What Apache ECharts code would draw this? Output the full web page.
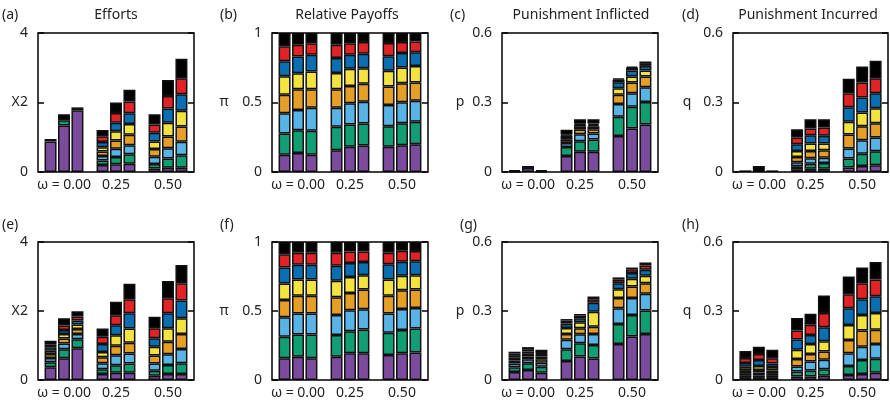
<!DOCTYPE html>
<html>
<head>
<meta charset="utf-8">
<script src="https://cdn.jsdelivr.net/npm/echarts@6/dist/echarts.min.js"></script>
<style>html,body{margin:0;padding:0;background:#fff}#c{width:890px;height:408px}</style>
</head>
<body>
<div id="c"></div>
<script>
// categories
const omegaLabels = ['ω = 0.00', '0.25', '0.50'];
// layer order (bottom → top): purple, green, light blue, orange, yellow, blue, red, black
// each row = one bar: ω=0.00 (3 bars), ω=0.25 (3 bars), ω=0.50 (3 bars)
const effortsTop = [
  [0.88,0,0,0,0,0,0,0.07],
  [1.34,0.15,0,0,0,0,0,0.17],
  [1.78,0,0,0,0,0,0,0.08],
  [0.20,0.13,0.13,0.13,0.12,0.15,0.17,0.18],
  [0.22,0.21,0.24,0.24,0.26,0.25,0.28,0.30],
  [0.24,0.27,0.26,0.30,0.31,0.31,0.34,0.34],
  [0.10,0.13,0.21,0.22,0.22,0.25,0.24,0.29],
  [0.12,0.27,0.29,0.34,0.40,0.41,0.36,0.46],
  [0.12,0.36,0.39,0.44,0.45,0.48,0.46,0.56]
];
const payoffsTop = [
  [0.125,0.152,0.145,0.133,0.133,0.108,0.108,0.096],
  [0.137,0.164,0.145,0.149,0.116,0.120,0.084,0.085],
  [0.125,0.171,0.166,0.133,0.128,0.120,0.084,0.073],
  [0.157,0.169,0.137,0.133,0.116,0.108,0.096,0.084],
  [0.181,0.161,0.152,0.125,0.123,0.101,0.084,0.073],
  [0.190,0.159,0.157,0.128,0.113,0.104,0.084,0.065],
  [0.181,0.149,0.152,0.133,0.113,0.104,0.096,0.072],
  [0.193,0.157,0.152,0.137,0.113,0.104,0.080,0.064],
  [0.200,0.161,0.152,0.130,0.120,0.099,0.077,0.061]
];
const inflictedTop = [
  [0.003,0,0,0,0,0,0,0.004],
  [0.017,0,0,0,0,0,0,0.009],
  [0.003,0,0,0,0,0,0,0.004],
  [0.069,0.039,0.017,0.014,0.012,0.007,0.004,0.020],
  [0.087,0.046,0.030,0.020,0.012,0.009,0.004,0.020],
  [0.087,0.053,0.026,0.019,0.012,0.006,0.006,0.019],
  [0.155,0.084,0.055,0.039,0.029,0.025,0.012,0.004],
  [0.188,0.094,0.058,0.046,0.026,0.026,0.012,0.005],
  [0.205,0.097,0.064,0.046,0.026,0.020,0.012,0.007]
];
const incurredTop = [
  [0,0,0,0,0,0,0,0.007],
  [0,0,0,0,0,0,0,0.026],
  [0,0,0,0,0,0,0,0.007],
  [0.012,0.013,0.017,0.023,0.026,0.029,0.029,0.035],
  [0.014,0.022,0.023,0.032,0.032,0.036,0.029,0.040],
  [0.014,0.025,0.023,0.032,0.029,0.033,0.036,0.036],
  [0.019,0.039,0.043,0.061,0.055,0.062,0.061,0.062],
  [0.026,0.053,0.058,0.061,0.059,0.065,0.064,0.069],
  [0.029,0.061,0.059,0.061,0.065,0.065,0.065,0.075]
];
const effortsBottom = [
  [0.37,0.145,0.126,0.11,0.10,0.10,0.07,0.12],
  [0.63,0.26,0.17,0.145,0.126,0.116,0.136,0.21],
  [0.92,0.26,0.155,0.145,0.126,0.116,0.116,0.155],
  [0.174,0.136,0.174,0.174,0.155,0.23,0.21,0.24],
  [0.21,0.22,0.29,0.27,0.31,0.29,0.29,0.387],
  [0.21,0.27,0.29,0.31,0.416,0.436,0.41,0.445],
  [0.126,0.145,0.21,0.23,0.25,0.25,0.29,0.33],
  [0.174,0.26,0.31,0.368,0.387,0.436,0.436,0.50],
  [0.174,0.31,0.416,0.436,0.455,0.51,0.50,0.53]
];
const payoffsBottom = [
  [0.157,0.157,0.140,0.125,0.120,0.116,0.096,0.089],
  [0.169,0.161,0.152,0.128,0.118,0.108,0.087,0.077],
  [0.157,0.173,0.152,0.128,0.118,0.108,0.087,0.077],
  [0.169,0.157,0.145,0.128,0.120,0.108,0.096,0.077],
  [0.193,0.161,0.152,0.125,0.116,0.101,0.084,0.068],
  [0.193,0.173,0.147,0.142,0.104,0.096,0.077,0.068],
  [0.181,0.161,0.140,0.128,0.118,0.111,0.084,0.077],
  [0.193,0.169,0.152,0.137,0.104,0.101,0.080,0.064],
  [0.200,0.173,0.149,0.133,0.104,0.101,0.075,0.065]
];
const inflictedBottom = [
  [0.035,0.020,0.017,0.013,0.012,0.011,0.008,0.007],
  [0.044,0.029,0.017,0.012,0.012,0.010,0.010,0.009],
  [0.032,0.026,0.017,0.015,0.012,0.012,0.003,0.014],
  [0.083,0.051,0.041,0.025,0.026,0.019,0.013,0.007],
  [0.102,0.058,0.039,0.026,0.026,0.017,0.012,0.007],
  [0.094,0.058,0.048,0.032,0.065,0.039,0.015,0.012],
  [0.157,0.087,0.068,0.044,0.039,0.026,0.015,0.010],
  [0.189,0.094,0.073,0.051,0.033,0.025,0.017,0.007],
  [0.200,0.102,0.073,0.046,0.032,0.026,0.019,0.013]
];
const incurredBottom = [
  [0.009,0.009,0.012,0.013,0.015,0.016,0.022,0.030],
  [0.009,0.009,0.014,0.012,0.017,0.026,0.026,0.032],
  [0.009,0.009,0.012,0.012,0.015,0.015,0.023,0.036],
  [0.015,0.022,0.022,0.032,0.041,0.044,0.039,0.055],
  [0.015,0.026,0.039,0.033,0.044,0.039,0.044,0.048],
  [0.019,0.028,0.041,0.036,0.044,0.061,0.062,0.076],
  [0.022,0.039,0.055,0.058,0.065,0.073,0.061,0.077],
  [0.026,0.061,0.058,0.070,0.068,0.068,0.070,0.068],
  [0.032,0.060,0.065,0.061,0.073,0.073,0.073,0.076]
];
// axis ranges and labels
const yMax = [4, 1, 0.6, 0.6];
const yInterval = [2, 0.5, 0.3, 0.3];
const yNames = ['X', 'π', 'p', 'q'];
const titles = ['Efforts', 'Relative Payoffs', 'Punishment Inflicted', 'Punishment Incurred'];
const tagsTop = ['(a)', '(b)', '(c)', '(d)'];
const tagsBottom = ['(e)', '(f)', '(g)', '(h)'];

// styles
const layerColors = ['#7B4B9E', '#119E73', '#58B4E6', '#E69F26', '#F2E33E', '#0A6FB2', '#E32226', '#000000'];
const colLeft = [38, 272, 502, 733];
const colWidth = [156, 156, 156, 155];
const rowTop = [33, 242];
const rowHeight = [139, 138];
const FONT = "'Noto Sans', 'DejaVu Sans', sans-serif";
const TXT = '#222';

const panels = [
  effortsTop, payoffsTop, inflictedTop, incurredTop,
  effortsBottom, payoffsBottom, inflictedBottom, incurredBottom
];

const grid = [], xAxis = [], yAxis = [], series = [];
panels.forEach((bars, p) => {
  const col = p % 4, row = Math.floor(p / 4);
  grid.push({
    left: colLeft[col], top: rowTop[row], width: colWidth[col], height: rowHeight[row],
    show: true, borderColor: '#000', borderWidth: 1.5, backgroundColor: 'transparent', z: 5
  });
  xAxis.push({
    type: 'category', gridIndex: p, data: omegaLabels,
    axisLine: {show: false}, axisTick: {show: false}, splitLine: {show: false},
    axisLabel: {interval: 0, hideOverlap: false, margin: 6, color: TXT, fontSize: 14, fontFamily: FONT}
  });
  const yCommon = {
    type: 'value', gridIndex: p, min: 0, max: yMax[col], interval: yInterval[col],
    axisLine: {show: false}, splitLine: {show: false},
    axisTick: {show: true, inside: true, length: 6, lineStyle: {color: '#000', width: 1.5}}
  };
  yAxis.push(Object.assign({}, yCommon, {
    position: 'left',
    axisLabel: {margin: 10, color: TXT, fontSize: 14, fontFamily: FONT}
  }));
  yAxis.push(Object.assign({}, yCommon, {
    position: 'right', axisLabel: {show: false}
  }));
  for (let b = 0; b < 3; b++) {
    for (let L = 0; L < 8; L++) {
      const data = [0, 1, 2].map(g => {
        const v = bars[g * 3 + b][L];
        return v === 0 ? '-' : v;
      });
      series.push({
        type: 'bar', xAxisIndex: p, yAxisIndex: 2 * p, stack: 'p' + p + 'b' + b,
        data: data, barWidth: 12, barGap: '12%', silent: true,
        itemStyle: {color: layerColors[L], borderColor: '#111', borderWidth: 1.5},
        animation: false
      });
    }
  }
});

const graphic = [];
const addText = (text, x, y, align) => graphic.push({
  type: 'text', x: x, y: y, silent: true,
  style: {text: text, x: 0, y: 0, fill: TXT, font: '14px ' + FONT,
    textAlign: align, align: align, textVerticalAlign: 'middle', verticalAlign: 'middle'}
});
const titleX = [116, 347, 581, 808];
titles.forEach((t, i) => addText(t, titleX[i], 15, 'center'));
const tagTopX = [2, 220, 450, 682];
const tagBottomX = [2, 220, 460, 682];
tagsTop.forEach((t, i) => addText(t, tagTopX[i], 15, 'left'));
tagsBottom.forEach((t, i) => addText(t, tagBottomX[i], 225, 'left'));
const nameX = [15.5, 224, 460, 687];
yNames.forEach((n, i) => {
  addText(n, nameX[i], rowTop[0] + rowHeight[0] / 2, 'center');
  addText(n, nameX[i], rowTop[1] + rowHeight[1] / 2, 'center');
});

const chart = echarts.init(document.getElementById('c'), null, {renderer: 'canvas'});
chart.setOption({
  animation: false,
  grid: grid, xAxis: xAxis, yAxis: yAxis, series: series, graphic: graphic
});
</script>
</body>
</html>
